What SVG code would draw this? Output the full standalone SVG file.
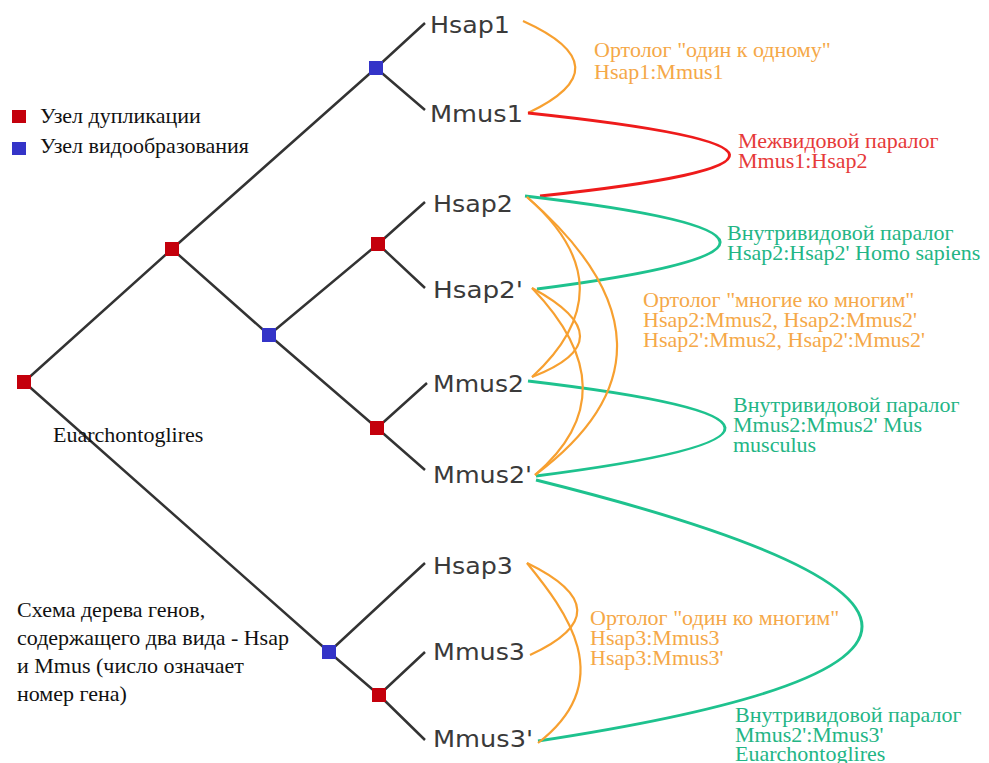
<svg xmlns="http://www.w3.org/2000/svg" width="989" height="763" viewBox="0 0 989 763">
<style>
.br{stroke:#333;stroke-width:2.5;fill:none}
.dup{fill:#c4000c}
.spe{fill:#3434c8}
.leaf{font-family:"DejaVu Sans",sans-serif;font-size:23px;fill:#3a3a3a}
.ser{font-family:"Liberation Serif","Times New Roman",serif;font-size:22px}
.or{stroke:#f7a030;stroke-width:2.2;fill:none}
.gr{stroke:#1ec28e;stroke-width:3;fill:none}
.rd{stroke:#ee1b1b;stroke-width:3;fill:none}
.tor{fill:#f5a848}
.tgr{fill:#23b585}
.trd{fill:#e63a3a}
.tbk{fill:#111}
</style>
<rect width="989" height="763" fill="#fff"/>
<g id="branches">
<path class="br" d="M24,382 L172,249 M24,382 L329,652 M172,249 L376,68 M172,249 L269,335 M376,68 L425,23 M376,68 L425,110 M269,335 L378,244 M269,335 L377,428 M378,244 L425,202 M378,244 L425,288 M377,428 L427,383 M377,428 L425,470 M329,652 L425,563 M329,652 L379,695 M379,695 L425,652 M379,695 L425,740"/>
</g>
<g id="root"><rect class="dup" x="17" y="375" width="14" height="14"/></g>
<g id="n_dup1"><rect class="dup" x="165" y="242" width="14" height="14"/></g>
<g id="n_spe1"><rect class="spe" x="369" y="61" width="14" height="14"/></g>
<g id="n_spe2"><rect class="spe" x="262" y="328" width="14" height="14"/></g>
<g id="n_dup2"><rect class="dup" x="371" y="237" width="14" height="14"/></g>
<g id="n_dup3"><rect class="dup" x="370" y="421" width="14" height="14"/></g>
<g id="n_spe3"><rect class="spe" x="322" y="645" width="14" height="14"/></g>
<g id="n_dup4"><rect class="dup" x="372" y="688" width="14" height="14"/></g>
<g id="Hsap1"><text class="leaf" x="430" y="33" textLength="80" lengthAdjust="spacingAndGlyphs">Hsap1</text></g>
<g id="Mmus1"><text class="leaf" x="430" y="122" textLength="93" lengthAdjust="spacingAndGlyphs">Mmus1</text></g>
<g id="Hsap2"><text class="leaf" x="433" y="212" textLength="80" lengthAdjust="spacingAndGlyphs">Hsap2</text></g>
<g id="Hsap2p"><text class="leaf" x="433" y="298" textLength="90" lengthAdjust="spacingAndGlyphs">Hsap2'</text></g>
<g id="Mmus2"><text class="leaf" x="433" y="392" textLength="91" lengthAdjust="spacingAndGlyphs">Mmus2</text></g>
<g id="Mmus2p"><text class="leaf" x="433" y="483" textLength="99" lengthAdjust="spacingAndGlyphs">Mmus2'</text></g>
<g id="Hsap3"><text class="leaf" x="433" y="574" textLength="80" lengthAdjust="spacingAndGlyphs">Hsap3</text></g>
<g id="Mmus3"><text class="leaf" x="433" y="660" textLength="92" lengthAdjust="spacingAndGlyphs">Mmus3</text></g>
<g id="Mmus3p"><text class="leaf" x="433" y="747" textLength="100" lengthAdjust="spacingAndGlyphs">Mmus3'</text></g>
<g id="connectors">
<path class="or" d="M523,21 Q625,67 528,113"/>
<path class="rd" d="M528,113 Q925,155 540,196"/>
<path class="gr" d="M525,196 Q909,241 537,289"/>
<path class="gr" d="M528,381 Q918,427 536,476"/>
<path class="gr" d="M536,480 Q1187,642 538,741"/>
<path class="or" d="M527,197 Q630,287 532,377"/>
<path class="or" d="M532,288 Q628,340 532,377"/>
<path class="or" d="M532,288 Q632,392 535,475"/>
<path class="or" d="M527,197 Q703,350 535,475"/>
<path class="or" d="M527,563 Q626,611 530,655"/>
<path class="or" d="M527,563 C565,610 620,680 538,743"/>
</g>
<g id="legend">
<rect class="dup" x="12" y="110" width="14" height="13"/>
<rect class="spe" x="12" y="142" width="14" height="13"/>
<text class="ser tbk" x="40" y="123">Узел дупликации</text>
<text class="ser tbk" x="40" y="153">Узел видообразования</text>
</g>
<g id="labels">
<text class="ser tor" x="594" y="57">Ортолог "один к одному"</text>
<text class="ser tor" x="594" y="79">Hsap1:Mmus1</text>
<text class="ser trd" x="738" y="148">Межвидовой паралог</text>
<text class="ser trd" x="738" y="168">Mmus1:Hsap2</text>
<text class="ser tgr" x="727" y="240">Внутривидовой паралог</text>
<text class="ser tgr" x="727" y="260">Hsap2:Hsap2' Homo sapiens</text>
<text class="ser tor" x="643" y="307">Ортолог "многие ко многим"</text>
<text class="ser tor" x="643" y="327">Hsap2:Mmus2, Hsap2:Mmus2'</text>
<text class="ser tor" x="643" y="347">Hsap2':Mmus2, Hsap2':Mmus2'</text>
<text class="ser tgr" x="733" y="412">Внутривидовой паралог</text>
<text class="ser tgr" x="733" y="432">Mmus2:Mmus2' Mus</text>
<text class="ser tgr" x="733" y="452">musculus</text>
<text class="ser tor" x="590" y="625">Ортолог "один ко многим"</text>
<text class="ser tor" x="590" y="645">Hsap3:Mmus3</text>
<text class="ser tor" x="590" y="665">Hsap3:Mmus3'</text>
<text class="ser tgr" x="735" y="722">Внутривидовой паралог</text>
<text class="ser tgr" x="735" y="742">Mmus2':Mmus3'</text>
<text class="ser tgr" x="735" y="761">Euarchontoglires</text>
<text class="ser tbk" x="53" y="442">Euarchontoglires</text>
<text class="ser tbk" x="17" y="617">Схема дерева генов,</text>
<text class="ser tbk" x="17" y="645">содержащего два вида - Hsap</text>
<text class="ser tbk" x="17" y="673">и Mmus (число означает</text>
<text class="ser tbk" x="17" y="701">номер гена)</text>
</g>
</svg>
